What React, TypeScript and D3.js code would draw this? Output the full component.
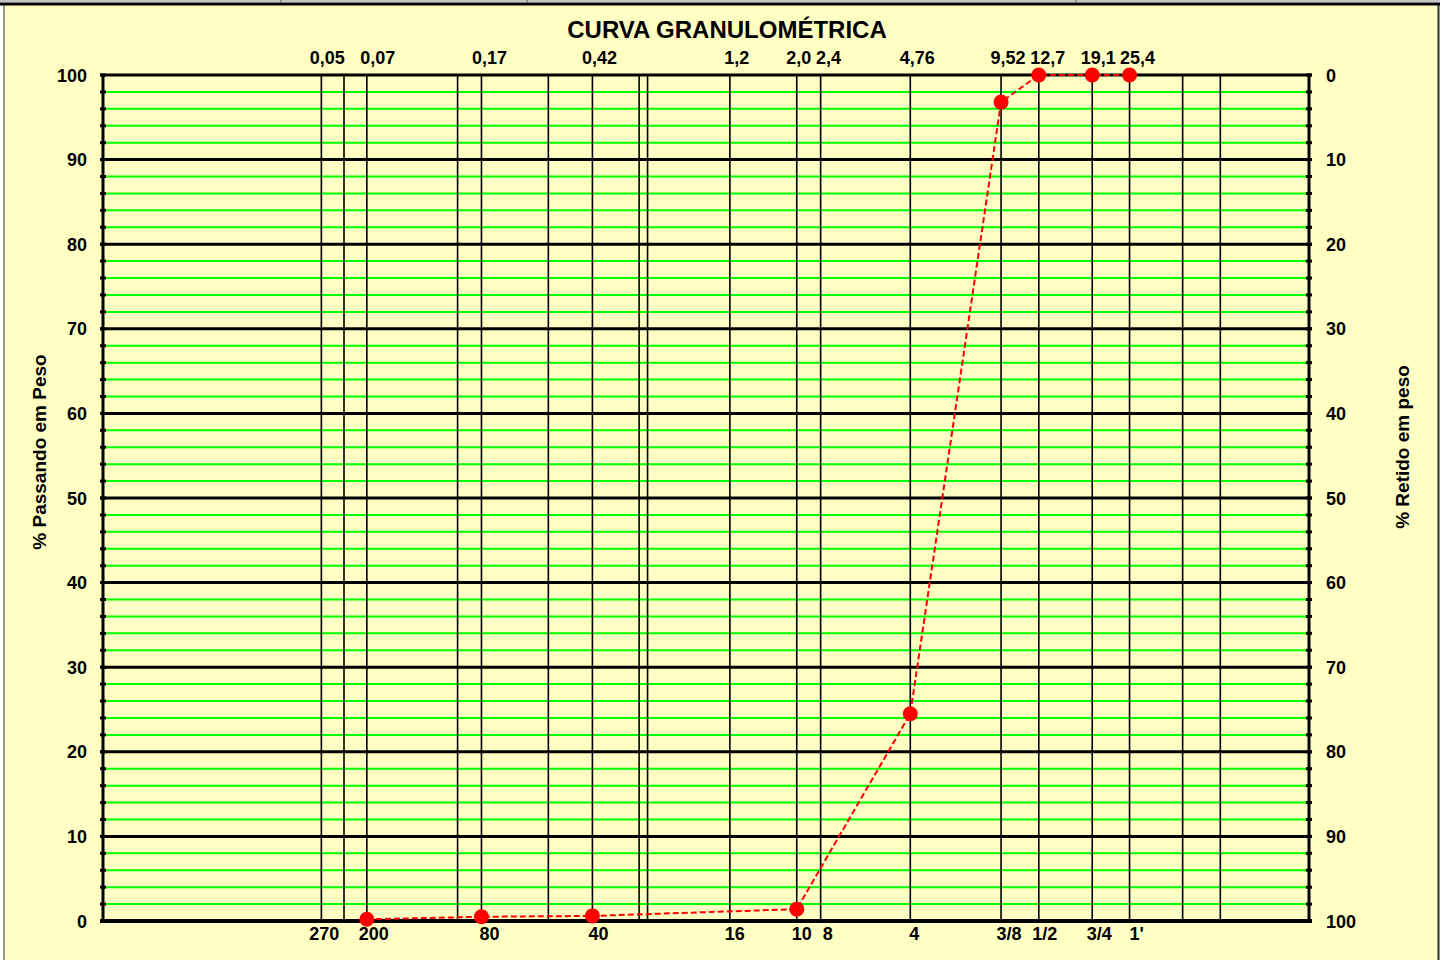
import React from 'react';
import * as d3 from 'd3';

// sieve openings (mm) drawn as vertical lines
const sieveLines = [0.053, 0.063, 0.075, 0.15, 0.18, 0.3, 0.42, 0.6, 0.64, 1.2, 2.0, 2.4, 4.76, 9.52, 12.7, 19.1, 25.4, 38.1, 50.8];

// top labels (mm) and bottom labels (sieve number); dx = label offset from its line
const topLabels = [
  { v: 0.053, t: '0,05', dx: 6 }, { v: 0.075, t: '0,07', dx: 11 }, { v: 0.18, t: '0,17', dx: 8 },
  { v: 0.42, t: '0,42', dx: 7 }, { v: 1.2, t: '1,2', dx: 7 }, { v: 2.0, t: '2,0', dx: 2 },
  { v: 2.4, t: '2,4', dx: 8 }, { v: 4.76, t: '4,76', dx: 7 }, { v: 9.52, t: '9,52', dx: 7 },
  { v: 12.7, t: '12,7', dx: 9 }, { v: 19.1, t: '19,1', dx: 6 }, { v: 25.4, t: '25,4', dx: 8 },
];
const bottomLabels = [
  { v: 0.053, t: '270', dx: 3 }, { v: 0.075, t: '200', dx: 7 }, { v: 0.18, t: '80', dx: 8 },
  { v: 0.42, t: '40', dx: 6 }, { v: 1.2, t: '16', dx: 5 }, { v: 2.0, t: '10', dx: 5 },
  { v: 2.4, t: '8', dx: 7 }, { v: 4.76, t: '4', dx: 4 }, { v: 9.52, t: '3/8', dx: 8 },
  { v: 12.7, t: '1/2', dx: 6 }, { v: 19.1, t: '3/4', dx: 7 }, { v: 25.4, t: "1'", dx: 7 },
];

// measured curve: % passing
const sizes = [0.075, 0.18, 0.42, 2.0, 4.76, 9.52, 12.7, 19.1, 25.4];
const passing = [0.2, 0.5, 0.6, 1.4, 24.5, 96.8, 100, 100, 100];

const font = 'Arial, "Liberation Sans", sans-serif';

const App = () => {
  const width = 1445;
  const height = 960;
  const margin = { top: 75, right: 136, bottom: 39, left: 103 };

  const x = d3.scaleLog()
    .domain([0.01, 100])
    .range([margin.left, width - margin.right]);
  const y = d3.scaleLinear()
    .domain([0, 100])
    .range([height - margin.bottom, margin.top]);
  const yRight = d3.scaleLinear()
    .domain([100, 0])
    .range([height - margin.bottom, margin.top]);

  const minor = d3.range(0, 101, 2).filter(v => v % 10 !== 0);
  const major = d3.range(0, 101, 10);

  const line = d3.line<number>()
    .x((_, i) => x(sizes[i]))
    .y(d => y(d));

  const x0 = margin.left;
  const x1 = width - margin.right;

  return (
    <svg width={width} height={height} style={{ position: 'absolute', left: 0, top: 0 }} fontFamily={font}>
      <rect x={0} y={0} width={width} height={height} fill="#ffffff" />
      <rect x={4} y={4} width={1434} height={956} fill="#ffffc4" />
      {/* frame */}
      <line x1={4} x2={4} y1={3} y2={960} stroke="#777" strokeWidth={1.5} />
      <line x1={1438.5} x2={1438.5} y1={3} y2={960} stroke="#333" strokeWidth={2} />
      <line x1={0} x2={1440} y1={4} y2={4} stroke="#000" strokeWidth={3} />
      <line x1={0} x2={1440} y1={1} y2={1} stroke="#888" strokeWidth={1} />
      {[281, 527, 1076].map(v => (
        <line key={v} x1={v} x2={v} y1={0} y2={3} stroke="#555" strokeWidth={1} />
      ))}

      <text x={727} y={38} textAnchor="middle" fontSize={24} fontWeight="bold">CURVA GRANULOMÉTRICA</text>

      {/* minor horizontals */}
      {minor.map(v => (
        <line key={'m' + v} x1={x0} x2={x1} y1={y(v)} y2={y(v)} stroke="#00ff00" strokeWidth={2} />
      ))}
      {/* sieve verticals */}
      {sieveLines.map(v => (
        <line key={'s' + v} x1={x(v)} x2={x(v)} y1={y(100)} y2={y(0)} stroke="#000" strokeWidth={1.6} />
      ))}
      {/* major horizontals */}
      {major.map(v => (
        <line key={'M' + v} x1={x0 - 3} x2={x1 + 3} y1={y(v)} y2={y(v)}
          stroke="#000" strokeWidth={v === 0 ? 4 : 3} />
      ))}
      {/* axes */}
      <line x1={x0} x2={x0} y1={y(100)} y2={y(0)} stroke="#000" strokeWidth={3} />
      <line x1={x1} x2={x1} y1={y(100)} y2={y(0)} stroke="#000" strokeWidth={3} />
      {d3.range(0, 101, 2).map(v => (
        <g key={'t' + v}>
          <line x1={x0 - 3} x2={x0 + 3} y1={y(v)} y2={y(v)} stroke="#000" strokeWidth={3} />
          <line x1={x1 - 3} x2={x1 + 3} y1={y(v)} y2={y(v)} stroke="#000" strokeWidth={3} />
        </g>
      ))}

      {/* left ticks */}
      {major.map(v => (
        <text key={'l' + v} x={x0 - 16} y={y(v) + 6.5} textAnchor="end" fontSize={18} fontWeight="bold">{v}</text>
      ))}
      {/* right ticks */}
      {major.map(v => (
        <text key={'r' + v} x={x1 + 17} y={yRight(v) + 6.5} textAnchor="start" fontSize={18} fontWeight="bold">{v}</text>
      ))}

      {topLabels.map(d => (
        <text key={'tl' + d.t} x={x(d.v) + d.dx} y={64} textAnchor="middle" fontSize={18} fontWeight="bold">{d.t}</text>
      ))}
      {bottomLabels.map(d => (
        <text key={'bl' + d.t} x={x(d.v) + d.dx} y={940} textAnchor="middle" fontSize={18} fontWeight="bold">{d.t}</text>
      ))}

      <text transform="translate(46,452) rotate(-90)" textAnchor="middle" fontSize={19} fontWeight="bold">% Passando em Peso</text>
      <text transform="translate(1409,447) rotate(-90)" textAnchor="middle" fontSize={19} fontWeight="bold">% Retido em peso</text>

      {/* curve */}
      <path d={line(passing) || ''} fill="none" stroke="#ff0000" strokeWidth={2} strokeDasharray="6,3" />
      {passing.map((v, i) => (
        <circle key={'p' + i} cx={x(sizes[i])} cy={y(v)} r={7.5} fill="#ff0000" />
      ))}
    </svg>
  );
};

export default App;
